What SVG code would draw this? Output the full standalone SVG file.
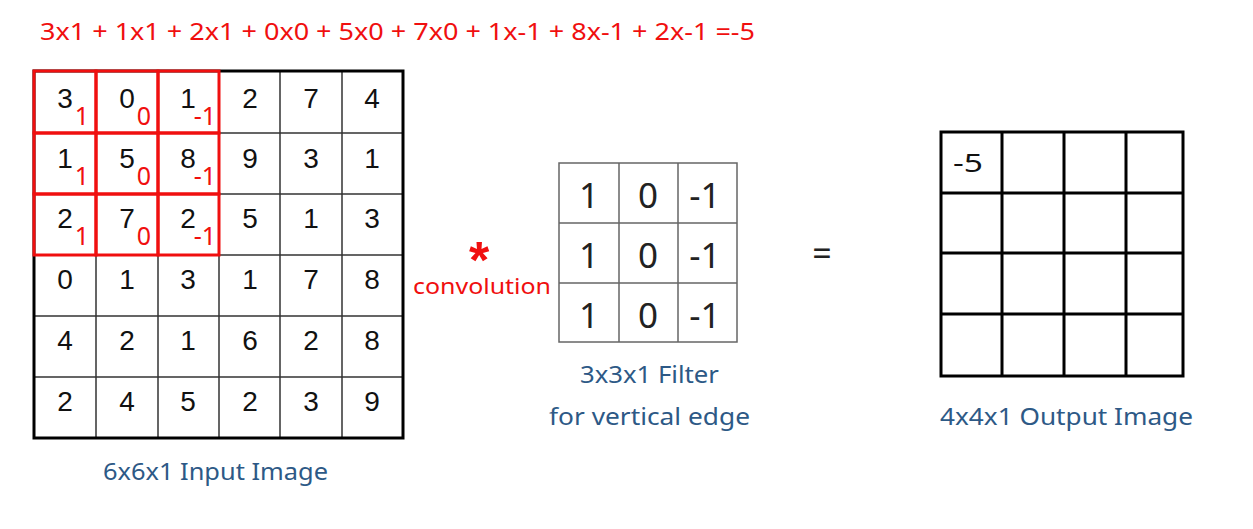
<svg xmlns="http://www.w3.org/2000/svg" width="1253" height="529" viewBox="0 0 1253 529">
<style>
.red{fill:#f00f0f;font-family:"Noto Sans","Liberation Sans",sans-serif}
.cell{fill:#111;font-family:"Liberation Sans",Arial,sans-serif;font-size:28px;text-anchor:middle}
.sub{fill:#f00f0f;font-family:"Noto Sans","Liberation Sans",sans-serif;font-size:25px}
.fil{fill:#222;font-family:"Noto Sans","Liberation Sans",sans-serif;font-size:35px;text-anchor:middle}
.lbl{fill:#2d5986;font-family:"Noto Sans","Liberation Sans",sans-serif;font-size:24px}
.thin{stroke:#333;stroke-width:1.5;fill:none}
.gray{stroke:#666;stroke-width:1.5;fill:none}
.thick{stroke:#000;stroke-width:3;fill:none}
.rbox{stroke:#f00f0f;stroke-width:3;fill:none}
</style>
<rect width="1253" height="529" fill="#fff"/>
<text class="red" x="40" y="40" font-size="23" textLength="715" lengthAdjust="spacingAndGlyphs">3x1 + 1x1 + 2x1 + 0x0 + 5x0 + 7x0 + 1x-1 + 8x-1 + 2x-1 =-5</text>

<g id="input">
<path class="thin" d="M96,71V438M158,71V438M219,71V438M280,71V438M342,71V438M34,133H403M34,194H403M34,255H403M34,316H403M34,377H403"/>
<rect class="thick" x="34" y="71" width="369" height="367"/>
<g class="cell">
<text x="65" y="108">3</text><text x="127" y="108">0</text><text x="188" y="108">1</text><text x="250" y="108">2</text><text x="311" y="108">7</text><text x="372" y="108">4</text>
<text x="65" y="168">1</text><text x="127" y="168">5</text><text x="188" y="168">8</text><text x="250" y="168">9</text><text x="311" y="168">3</text><text x="372" y="168">1</text>
<text x="65" y="228">2</text><text x="127" y="228">7</text><text x="188" y="228">2</text><text x="250" y="228">5</text><text x="311" y="228">1</text><text x="372" y="228">3</text>
<text x="65" y="289">0</text><text x="127" y="289">1</text><text x="188" y="289">3</text><text x="250" y="289">1</text><text x="311" y="289">7</text><text x="372" y="289">8</text>
<text x="65" y="350">4</text><text x="127" y="350">2</text><text x="188" y="350">1</text><text x="250" y="350">6</text><text x="311" y="350">2</text><text x="372" y="350">8</text>
<text x="65" y="411">2</text><text x="127" y="411">4</text><text x="188" y="411">5</text><text x="250" y="411">2</text><text x="311" y="411">3</text><text x="372" y="411">9</text>
</g>
<g id="window">
<rect class="rbox" x="34" y="71" width="62" height="62"/><rect class="rbox" x="96" y="71" width="62" height="62"/><rect class="rbox" x="158" y="71" width="61" height="62"/>
<rect class="rbox" x="34" y="133" width="62" height="61"/><rect class="rbox" x="96" y="133" width="62" height="61"/><rect class="rbox" x="158" y="133" width="61" height="61"/>
<rect class="rbox" x="34" y="194" width="62" height="61"/><rect class="rbox" x="96" y="194" width="62" height="61"/><rect class="rbox" x="158" y="194" width="61" height="61"/>
<g class="sub">
<text x="82" y="125" text-anchor="middle">1</text><text x="144" y="125" text-anchor="middle">0</text><text x="216" y="125" text-anchor="end">-1</text>
<text x="82" y="185" text-anchor="middle">1</text><text x="144" y="185" text-anchor="middle">0</text><text x="216" y="185" text-anchor="end">-1</text>
<text x="82" y="245" text-anchor="middle">1</text><text x="144" y="245" text-anchor="middle">0</text><text x="216" y="245" text-anchor="end">-1</text>
</g>
</g>
<text class="lbl" x="103" y="480" textLength="225" lengthAdjust="spacingAndGlyphs">6x6x1 Input Image</text>
</g>

<g id="operator">
<text x="479" y="278" fill="#f00f0f" font-family="Liberation Sans, sans-serif" font-weight="bold" font-size="52" text-anchor="middle">*</text>
<text class="red" x="413" y="294" font-size="22" textLength="138" lengthAdjust="spacingAndGlyphs">convolution</text>
</g>

<g id="filter">
<rect class="gray" x="559" y="163" width="178" height="179"/>
<path class="gray" d="M619,163V342M678,163V342M559,223H737M559,283H737"/>
<g class="fil">
<text x="589" y="208">1</text><text x="648" y="208">0</text><text x="705" y="208">-1</text>
<text x="589" y="268">1</text><text x="648" y="268">0</text><text x="705" y="268">-1</text>
<text x="589" y="328">1</text><text x="648" y="328">0</text><text x="705" y="328">-1</text>
</g>
<text class="lbl" x="580" y="383" textLength="139" lengthAdjust="spacingAndGlyphs">3x3x1 Filter</text>
<text class="lbl" x="549" y="425" textLength="201" lengthAdjust="spacingAndGlyphs">for vertical edge</text>
</g>

<g id="equals">
<text x="822" y="266" fill="#222" font-family="Noto Sans, sans-serif" font-size="34" text-anchor="middle">=</text>
</g>

<g id="output">
<rect class="thick" x="941" y="132" width="242" height="244"/>
<path class="thick" d="M1002,132V376M1064,132V376M1126,132V376M941,193H1183M941,253H1183M941,314H1183"/>
<text x="953" y="172" fill="#111" font-family="Noto Sans, sans-serif" font-size="25" textLength="30" lengthAdjust="spacingAndGlyphs">-5</text>
<text class="lbl" x="940" y="425" textLength="253" lengthAdjust="spacingAndGlyphs">4x4x1 Output Image</text>
</g>
</svg>
